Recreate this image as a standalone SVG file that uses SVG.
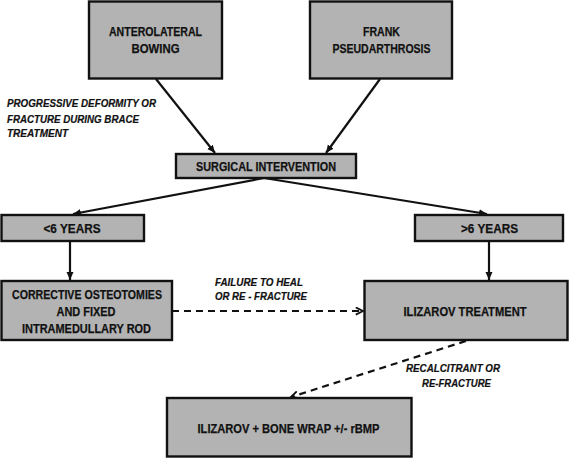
<svg xmlns="http://www.w3.org/2000/svg" width="570" height="458" viewBox="0 0 570 458">
<style>
.box{fill:#b3b3b3;stroke:#111;stroke-width:2.4}
.t{font-family:"Liberation Sans",Arial,sans-serif;font-weight:bold;font-size:12.5px;fill:#111;stroke:#111;stroke-width:0.25;text-anchor:middle}
.lbl{font-family:"Liberation Sans",Arial,sans-serif;font-weight:bold;font-style:italic;font-size:11px;fill:#111;stroke:#111;stroke-width:0.2}
.c{stroke:#111;stroke-width:2.2;fill:none}
.d{stroke-dasharray:7,5}
</style>
<defs>
<marker id="ah" viewBox="0 0 8 8" refX="8" refY="4" markerWidth="8" markerHeight="8" markerUnits="userSpaceOnUse" orient="auto">
<path d="M0,0.5 L8,4 L0,7.5 z" fill="#111"/>
</marker>
<marker id="ao" viewBox="0 0 10 10" refX="9" refY="5" markerWidth="9" markerHeight="9" markerUnits="userSpaceOnUse" orient="auto">
<path d="M1,1 L9,5 L1,9" fill="none" stroke="#111" stroke-width="2"/>
</marker>
</defs>
<rect width="570" height="458" fill="#fff"/>
<g id="connectors">
<line class="c" x1="156" y1="79" x2="215" y2="153" marker-end="url(#ah)"/>
<line class="c" x1="380" y1="79" x2="326" y2="153" marker-end="url(#ah)"/>
<line class="c" x1="264" y1="178" x2="73" y2="214" marker-end="url(#ah)"/>
<line class="c" x1="264" y1="178" x2="487" y2="214" marker-end="url(#ah)"/>
<line class="c" x1="70" y1="241" x2="70" y2="280" marker-end="url(#ah)"/>
<line class="c" x1="489" y1="241" x2="489" y2="280" marker-end="url(#ah)"/>
<line class="c d" x1="172" y1="311" x2="363" y2="311" marker-end="url(#ao)"/>
<line class="c d" x1="466" y1="341" x2="291" y2="397" marker-end="url(#ao)"/>
<text class="lbl" x="7" y="107" textLength="149" lengthAdjust="spacingAndGlyphs">PROGRESSIVE DEFORMITY OR</text>
<text class="lbl" x="7" y="123" textLength="132" lengthAdjust="spacingAndGlyphs">FRACTURE DURING BRACE</text>
<text class="lbl" x="7" y="137" textLength="61" lengthAdjust="spacingAndGlyphs">TREATMENT</text>
<text class="lbl" x="215" y="286" textLength="88" lengthAdjust="spacingAndGlyphs">FAILURE TO HEAL</text>
<text class="lbl" x="215" y="300" textLength="92" lengthAdjust="spacingAndGlyphs">OR RE - FRACTURE</text>
<text class="lbl" x="406" y="372" textLength="94" lengthAdjust="spacingAndGlyphs">RECALCITRANT OR</text>
<text class="lbl" x="422" y="387" textLength="69" lengthAdjust="spacingAndGlyphs">RE-FRACTURE</text>
</g>
<g id="anterolateral">
<rect class="box" x="89" y="1.5" width="133" height="77"/>
<text class="t" x="155.5" y="36" textLength="93" lengthAdjust="spacingAndGlyphs">ANTEROLATERAL</text>
<text class="t" x="155.5" y="53" textLength="48" lengthAdjust="spacingAndGlyphs">BOWING</text>
</g>
<g id="frank">
<rect class="box" x="310" y="1.5" width="142" height="77"/>
<text class="t" x="381.5" y="36" textLength="37" lengthAdjust="spacingAndGlyphs">FRANK</text>
<text class="t" x="381.5" y="53" textLength="98" lengthAdjust="spacingAndGlyphs">PSEUDARTHROSIS</text>
</g>
<g id="surgical">
<rect class="box" x="176" y="154" width="180" height="24"/>
<text class="t" x="266" y="171" textLength="140" lengthAdjust="spacingAndGlyphs">SURGICAL INTERVENTION</text>
</g>
<g id="under6">
<rect class="box" x="1.5" y="215" width="142.5" height="26"/>
<text class="t" x="72" y="233" textLength="57" lengthAdjust="spacingAndGlyphs">&lt;6 YEARS</text>
</g>
<g id="over6">
<rect class="box" x="415" y="215" width="148" height="26"/>
<text class="t" x="489.5" y="233" textLength="57" lengthAdjust="spacingAndGlyphs">&gt;6 YEARS</text>
</g>
<g id="corrective">
<rect class="box" x="1.5" y="281" width="170.5" height="59"/>
<text class="t" x="87" y="298.5" textLength="150" lengthAdjust="spacingAndGlyphs">CORRECTIVE OSTEOTOMIES</text>
<text class="t" x="86" y="315.5" textLength="59" lengthAdjust="spacingAndGlyphs">AND FIXED</text>
<text class="t" x="86.5" y="332.5" textLength="129" lengthAdjust="spacingAndGlyphs">INTRAMEDULLARY ROD</text>
</g>
<g id="ilizarov">
<rect class="box" x="364.5" y="281" width="203" height="59"/>
<text class="t" x="465" y="315.5" textLength="123" lengthAdjust="spacingAndGlyphs">ILIZAROV TREATMENT</text>
</g>
<g id="ilizarov-wrap">
<rect class="box" x="167" y="398" width="244.5" height="58.5"/>
<text class="t" x="288.5" y="432.5" textLength="182" lengthAdjust="spacingAndGlyphs">ILIZAROV + BONE WRAP +/- rBMP</text>
</g>
</svg>
